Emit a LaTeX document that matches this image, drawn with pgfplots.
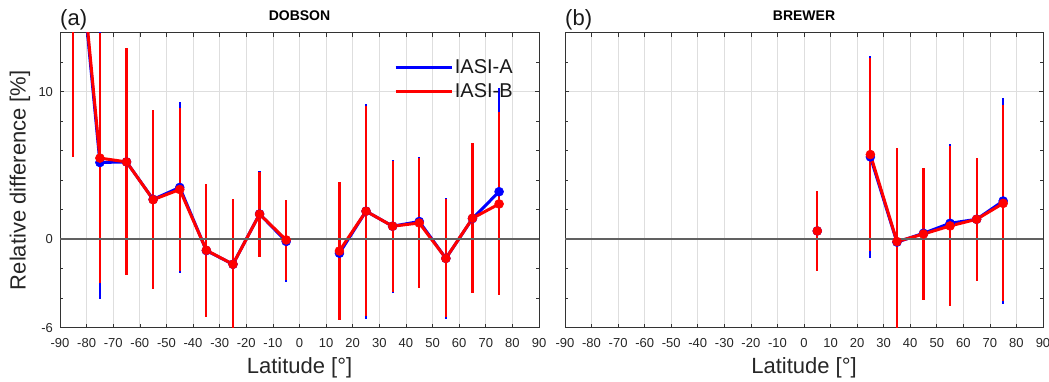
\documentclass[border=0pt]{standalone}
\usepackage{pgfplots}
\usepackage{pgfplotstable}
\pgfplotsset{compat=1.18}
\usepackage{fontspec}
\setmainfont{Liberation Sans}

\pgfplotstableread{
lat a ea b eb
-85 24.0 15.6 24.4 18.8
-75 5.2 9.25 5.5 8.5
-65 5.24 7.7 5.24 7.7
-55 2.7 6.06 2.68 6.06
-45 3.51 5.8 3.37 5.55
-35 -0.77 4.52 -0.75 4.52
-25 -1.7 4.4 -1.7 4.4
-15 1.71 2.88 1.7 2.88
-5 -0.15 2.72 -0.05 2.72
5 nan 0 nan 0
15 -0.95 4.45 -0.8 4.7
25 1.9 7.3 1.9 7.1
35 0.88 4.5 0.88 4.45
45 1.2 4.4 1.1 4.4
55 -1.3 4.1 -1.3 4.0
65 1.4 4.65 1.42 5.1
75 3.22 7.0 2.39 6.2
}\dobson

\pgfplotstableread{
lat a ea b eb
5 0.56 2.7 0.56 2.7
15 nan 0 nan 0
25 5.58 6.85 5.74 6.56
35 -0.2 6.4 -0.16 6.35
45 0.4 4.45 0.35 4.45
55 1.08 5.4 0.9 5.45
65 1.35 4.17 1.35 4.17
75 2.59 7.0 2.43 6.65
}\brewer

\pgfplotsset{
  myax/.style={
    scale only axis, height=295pt,
    xmin=-90, xmax=90, ymin=-6, ymax=14,
    xtick={-90,-80,...,90}, ytick={-6,0,10}, minor ytick={-4,-2,2,4,6,8,12},
    xmajorgrids, ymajorgrids,
    major grid style={black!13, line width=0.7pt},
    tick align=inside, major tick length=4pt, minor tick length=3pt,
    axis line style={black!80, line width=0.8pt},
    every tick/.style={black!80, line width=0.6pt},
    tick label style={font=\fontsize{13}{15}\selectfont, text=black!85},
    xticklabel style={yshift=-7.5pt},
    yticklabel style={xshift=-3.5pt},
    /pgf/number format/assume math mode=true,
    label style={font=\fontsize{22}{26}\selectfont, text=black!85},
    xlabel={Latitude [°]},
    xlabel style={at={(axis description cs:0.5,-0.136)}, anchor=center},
    title style={at={(axis description cs:0.5,1.036)}, anchor=center, inner sep=0pt,
      font=\bfseries\fontsize{14}{16}\selectfont},
    unbounded coords=jump,
  },
  pa/.style={blue, line width=3pt, mark=*, mark size=4.5pt,
    mark options={line width=0.5pt, fill=blue},
    error bars/.cd, y dir=both, y explicit, error mark=none,
    error bar style={line width=2.2pt, blue}},
  pb/.style={red, line width=3pt, mark=*, mark size=4.5pt,
    mark options={line width=0.5pt, fill=red},
    error bars/.cd, y dir=both, y explicit, error mark=none,
    error bar style={line width=2.2pt, red}},
}

\begin{document}
\begin{tikzpicture}
\path[use as bounding box] (0pt,0pt) rectangle (1049pt,-382pt);

\begin{axis}[myax, width=479pt, at={(60pt,-327.7pt)}, anchor=south west,
  title={DOBSON},
  ylabel={Relative difference [\%]},
  ylabel style={at={(axis description cs:-0.0835,0.5)}, anchor=center},
  legend style={at={(axis description cs:0.697,0.915)}, anchor=north west,
    draw=none, fill=none, inner sep=0pt, row sep=5pt,
    font=\fontsize{20}{22}\selectfont, nodes={inner sep=1.8pt, text=black!90}},
  legend cell align=left,
  legend image code/.code={\draw[#1, line width=3pt] (0pt,0pt) -- (56pt,0pt);},
]
\addplot[pa] table[x=lat, y=a, y error=ea] {\dobson};
\addlegendentry{IASI-A}
\addplot[pb] table[x=lat, y=b, y error=eb] {\dobson};
\addlegendentry{IASI-B}
\addplot[black!62, line width=2pt, forget plot] coordinates {(-90,0) (90,0)};
\end{axis}

\begin{axis}[myax, width=478pt, at={(565pt,-327.7pt)}, anchor=south west,
  title={BREWER}, yticklabels={},
]
\addplot[pa] table[x=lat, y=a, y error=ea] {\brewer};
\addplot[pb] table[x=lat, y=b, y error=eb] {\brewer};
\addplot[black!62, line width=2pt, forget plot] coordinates {(-90,0) (90,0)};
\end{axis}

\node[anchor=west, inner sep=0pt, font=\fontsize{22}{26}\selectfont, text=black!90] at (60pt,-20pt) {(a)};
\node[anchor=west, inner sep=0pt, font=\fontsize{22}{26}\selectfont, text=black!90] at (565pt,-20pt) {(b)};
\end{tikzpicture}
\end{document}
